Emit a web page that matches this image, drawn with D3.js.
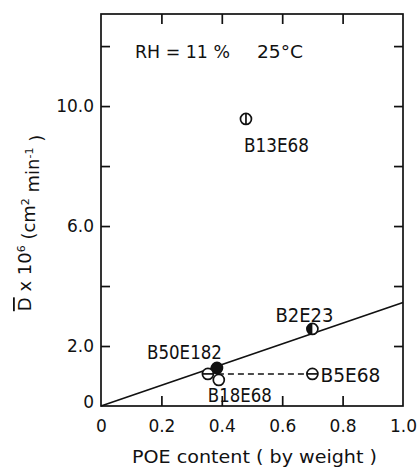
<!DOCTYPE html>
<html>
<head>
<meta charset="utf-8">
<script src="https://cdn.jsdelivr.net/npm/d3@7"></script>
<style>
  body { margin: 0; background: #fff; }
  svg text { font-family: "DejaVu Sans", "Liberation Sans", Arial, sans-serif; fill: #111; }
</style>
</head>
<body>
<div id="chart"></div>
<script>
// data
const names   = ["B13E68", "B2E23", "B50E182", "", "B18E68", "B5E68"];
const poe     = [0.48, 0.70, 0.384, 0.354, 0.39, 0.70];
const dVal    = [9.57, 2.57, 1.27, 1.07, 0.87, 1.07];
const markers = ["vbar", "half", "filled", "hbar", "open", "hbar"];
const fitX = [0, 1.0], fitY = [0, 3.45];
const dashX = [0.354, 0.70], dashY = [1.07, 1.07];
const xTicks = [0, 0.2, 0.4, 0.6, 0.8, 1.0];
const yTicks = [0, 2, 4, 6, 8, 10, 12];
const yLabels = { 0: "0", 2: "2.0", 6: "6.0", 10: "10.0" };

const W = 417, H = 467;
const mLeft = 101, mRight = 403, mTop = 14, mBottom = 406;

const x = d3.scaleLinear().domain([0, 1]).range([mLeft, mRight]);
const y = d3.scaleLinear().domain([0, 13.07]).range([mBottom, mTop]);

const svg = d3.select("#chart").append("svg")
    .attr("width", W).attr("height", H);

// frame
svg.append("rect")
    .attr("x", mLeft).attr("y", mTop)
    .attr("width", mRight - mLeft).attr("height", mBottom - mTop)
    .attr("fill", "none").attr("stroke", "#111").attr("stroke-width", 1.7);

function styleAxis(g) {
    g.select(".domain").remove();
    g.selectAll(".tick line").attr("stroke", "#111").attr("stroke-width", 1.7);
    g.selectAll(".tick text").style("font-size", "17px")
        .style("font-family", "'DejaVu Sans', sans-serif");
}

// bottom axis
svg.append("g")
    .attr("transform", "translate(0," + mBottom + ")")
    .call(d3.axisBottom(x).tickValues(xTicks).tickSize(-10).tickPadding(14)
        .tickFormat(d => d === 0 ? "0" : d3.format(".1f")(d)))
    .call(styleAxis)
    .call(g => g.selectAll(".tick line").filter(d => d === 0 || d === 1).remove());

// top axis (ticks only)
svg.append("g")
    .attr("transform", "translate(0," + mTop + ")")
    .call(d3.axisTop(x).tickValues(xTicks.slice(1, 5)).tickSize(-10).tickFormat(""))
    .call(styleAxis);

// left axis
svg.append("g")
    .attr("transform", "translate(" + mLeft + ",0)")
    .call(d3.axisLeft(y).tickValues(yTicks).tickSize(-9).tickPadding(7)
        .tickFormat(d => yLabels[d] || ""))
    .call(styleAxis)
    .call(g => g.selectAll(".tick line").filter(d => d === 0).remove())
    .call(g => g.selectAll(".tick text").filter(d => d === 0).attr("dy", "0.1em"));

// right axis (ticks only)
svg.append("g")
    .attr("transform", "translate(" + mRight + ",0)")
    .call(d3.axisRight(y).tickValues(yTicks.slice(1)).tickSize(-9).tickFormat(""))
    .call(styleAxis);

// fitted line
svg.append("line")
    .attr("x1", x(fitX[0])).attr("y1", y(fitY[0]))
    .attr("x2", x(fitX[1])).attr("y2", y(fitY[1]))
    .attr("stroke", "#111").attr("stroke-width", 1.7);

// dashed line
svg.append("line")
    .attr("x1", x(dashX[0])).attr("y1", y(dashY[0]))
    .attr("x2", x(dashX[1])).attr("y2", y(dashY[1]))
    .attr("stroke", "#111").attr("stroke-width", 1.5)
    .attr("stroke-dasharray", "6,4");

// markers
const r = 5.5;
const pts = names.map((n, i) => ({ name: n, px: x(poe[i]), py: y(dVal[i]), m: markers[i] }));

pts.forEach(p => {
    const g = svg.append("g").attr("transform", "translate(" + p.px + "," + p.py + ")");
    g.append("circle").attr("r", r)
        .attr("fill", p.m === "filled" ? "#111" : "#fff")
        .attr("stroke", "#111").attr("stroke-width", 1.7);
    if (p.m === "vbar") {
        g.append("line").attr("x1", 0).attr("x2", 0).attr("y1", -r).attr("y2", r)
            .attr("stroke", "#111").attr("stroke-width", 1.7);
    }
    if (p.m === "hbar") {
        g.append("line").attr("x1", -r).attr("x2", r).attr("y1", 0).attr("y2", 0)
            .attr("stroke", "#111").attr("stroke-width", 1.7);
    }
    if (p.m === "half") {
        g.append("path")
            .attr("d", "M0," + (-r) + " A" + r + "," + r + " 0 0,0 0," + r + " Z")
            .attr("fill", "#111");
    }
});

// point labels: [dx, dy, width] relative to marker
const labelOff = {
    "B13E68": [-2, 33, 65],
    "B2E23": [-37, -7, 58],
    "B50E182": [-70, -9, 75],
    "B18E68": [-11, 22, 64],
    "B5E68": [8, 8, 60]
};
pts.filter(p => p.name).forEach(p => {
    const o = labelOff[p.name];
    svg.append("text")
        .attr("x", p.px + o[0]).attr("y", p.py + o[1])
        .attr("textLength", o[2]).attr("lengthAdjust", "spacingAndGlyphs")
        .style("font-size", "19px")
        .text(p.name);
});

// condition note
svg.append("text").attr("x", 135).attr("y", 58).style("font-size", "17px")
    .attr("textLength", 95).attr("lengthAdjust", "spacingAndGlyphs")
    .text("RH = 11 %");
svg.append("text").attr("x", 257).attr("y", 58).style("font-size", "17px")
    .attr("textLength", 46).attr("lengthAdjust", "spacingAndGlyphs")
    .text("25°C");

// axis titles
svg.append("text")
    .attr("x", 132).attr("y", 463)
    .attr("textLength", 245).attr("lengthAdjust", "spacingAndGlyphs")
    .style("font-size", "18px")
    .text("POE  content ( by weight )");

const yt = svg.append("text")
    .attr("transform", "translate(31,223) rotate(-90)")
    .attr("text-anchor", "middle").style("font-size", "18px");
yt.append("tspan").style("text-decoration", "overline").text("D");
yt.append("tspan").text(" x 10");
yt.append("tspan").attr("dy", "-0.55em").style("font-size", "11px").text("6");
yt.append("tspan").attr("dy", "0.55em").text("  (cm");
yt.append("tspan").attr("dy", "-0.55em").style("font-size", "11px").text("2");
yt.append("tspan").attr("dy", "0.55em").text(" min");
yt.append("tspan").attr("dy", "-0.55em").style("font-size", "11px").text("-1");
yt.append("tspan").attr("dy", "0.55em").text(" )");
</script>
</body>
</html>
